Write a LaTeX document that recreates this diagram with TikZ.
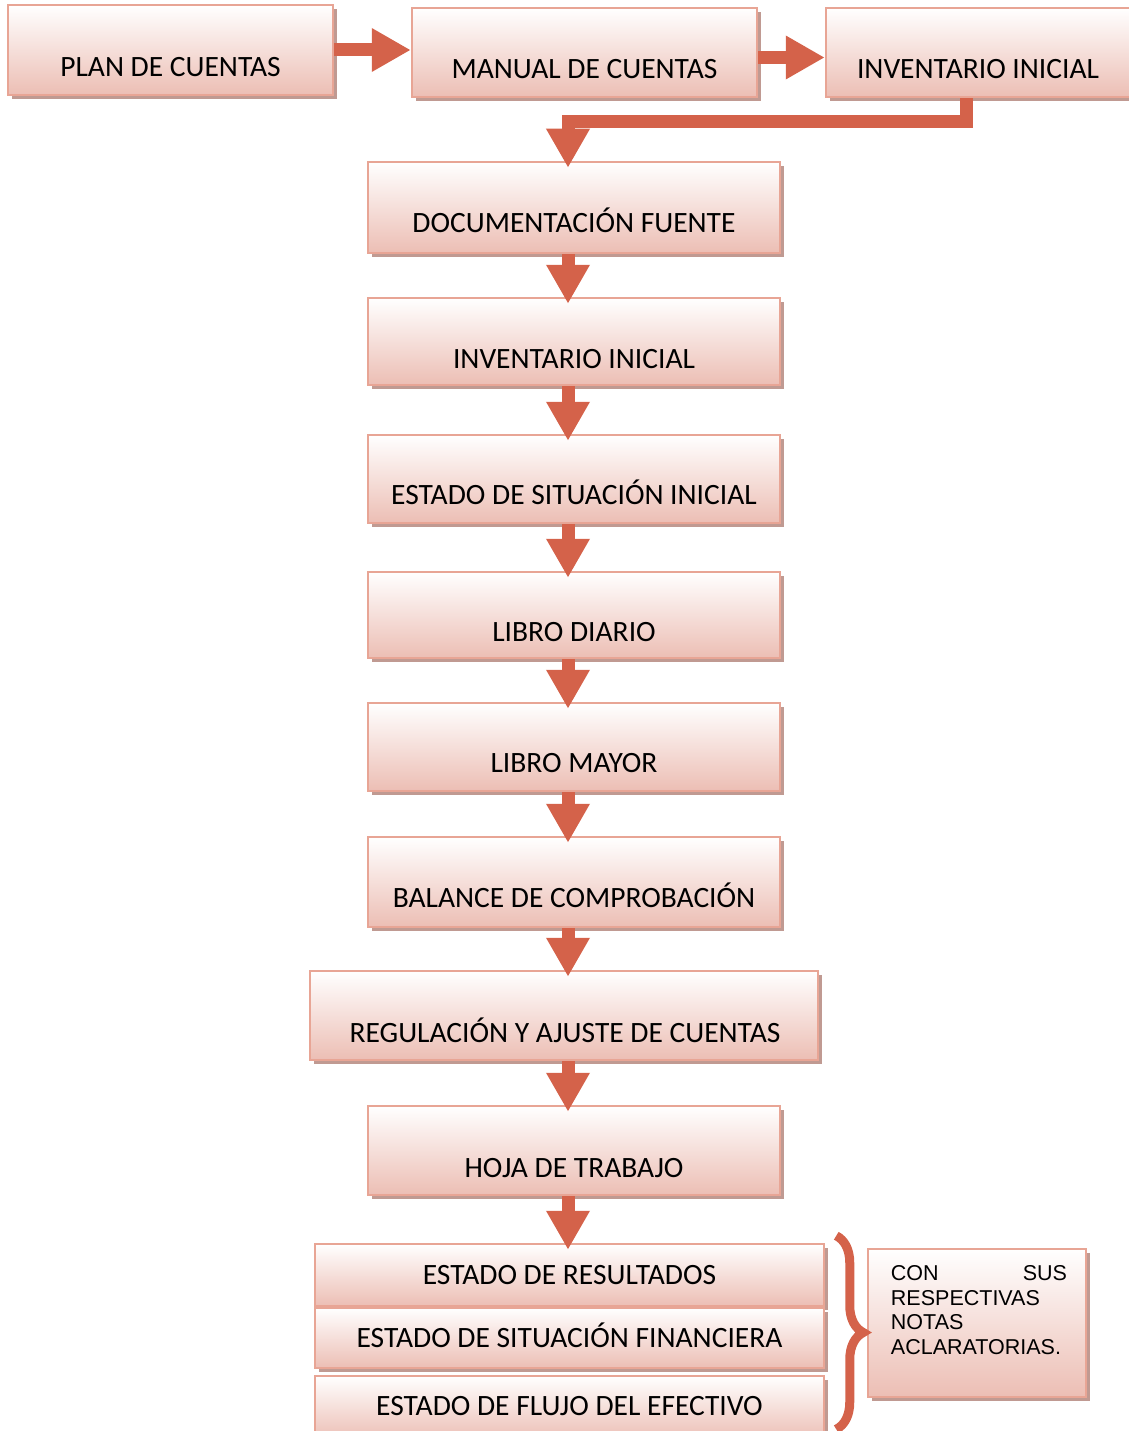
\documentclass[tikz,border=0pt]{standalone}
\usepackage{fontspec}
\setmainfont{Carlito}
\newfontfamily\notafont{Liberation Sans}
\usetikzlibrary{arrows.meta,shadows,decorations.pathreplacing}
\definecolor{naranja}{RGB}{212,98,74}
\definecolor{borde}{RGB}{232,165,149}
\definecolor{fondo}{RGB}{236,190,180}
\definecolor{sombra}{RGB}{192,154,146}

\begin{document}
\begin{tikzpicture}[x=1pt,y=-1pt,
  caja/.style={draw=borde, line width=2.5pt, top color=white, bottom color=fondo, inner sep=0pt,
    drop shadow={shadow xshift=4pt, shadow yshift=-4pt, fill=sombra, opacity=1}},
  txt/.style={font=\fontsize{29.5}{34}\selectfont, text height=19pt, text depth=0pt, inner sep=0pt},
  flecha/.style={draw=naranja, line width=13pt, line join=miter, shorten >=-7pt,
    -{Triangle[length=39pt,width=41pt]}}]
\useasboundingbox (0,0) rectangle (1128,1431); % page
% top row
\node[caja, minimum width=325pt, minimum height=90pt] (plan) at (170.5,50) {};
\node[caja, minimum width=345pt, minimum height=89pt] (manual) at (584.5,52.5) {};
\node[caja, minimum width=310pt, minimum height=89pt] (inv1) at (981,52.5) {};
% column
\node[caja, minimum width=412pt, minimum height=91pt] (doc) at (574,207.5) {};
\node[caja, minimum width=412pt, minimum height=87pt] (inv2) at (574,341.5) {};
\node[caja, minimum width=412pt, minimum height=88pt] (esi) at (574,479) {};
\node[caja, minimum width=412pt, minimum height=86pt] (diario) at (574,615) {};
\node[caja, minimum width=412pt, minimum height=88pt] (mayor) at (574,747) {};
\node[caja, minimum width=412pt, minimum height=90pt] (balance) at (574,882) {};
\node[caja, minimum width=508pt, minimum height=89pt] (regula) at (564,1015.5) {};
\node[caja, minimum width=412pt, minimum height=89pt] (hoja) at (574,1150.5) {};
% final statements
\node[caja, minimum width=509pt, minimum height=62pt] (res) at (569.5,1275) {};
\node[caja, minimum width=509pt, minimum height=60pt] (fin) at (569.5,1338) {};
\node[caja, minimum width=509pt, minimum height=64pt] (flujo) at (569.5,1408) {};
\node[caja, minimum width=218pt, minimum height=148pt] (nota) at (977,1323) {};
% texts
\node[txt] at ([yshift=-17pt]plan.center) {PLAN DE CUENTAS};
\node[txt] at ([yshift=-17pt]manual.center) {MANUAL DE CUENTAS};
\node[txt] at ([xshift=-3pt,yshift=-17pt]inv1.center) {INVENTARIO INICIAL};
\node[txt] at ([yshift=-16pt]doc.center) {DOCUMENTACIÓN FUENTE};
\node[txt] at ([yshift=-17pt]inv2.center) {INVENTARIO INICIAL};
\node[txt] at ([yshift=-16pt]esi.center) {ESTADO DE SITUACIÓN INICIAL};
\node[txt] at ([yshift=-17pt]diario.center) {LIBRO DIARIO};
\node[txt] at ([yshift=-16pt]mayor.center) {LIBRO MAYOR};
\node[txt] at ([yshift=-16pt]balance.center) {BALANCE DE COMPROBACIÓN};
\node[txt] at ([xshift=1pt,yshift=-17pt]regula.center) {REGULACIÓN Y AJUSTE DE CUENTAS};
\node[txt] at ([yshift=-17pt]hoja.center) {HOJA DE TRABAJO};
\node[txt] at (res.center) {ESTADO DE RESULTADOS};
\node[txt] at (fin.center) {ESTADO DE SITUACIÓN FINANCIERA};
\node[txt] at ([yshift=2pt]flujo.center) {ESTADO DE FLUJO DEL EFECTIVO};
\node[anchor=north west, text width=176pt, align=left, inner sep=0pt,
  font=\notafont\fontsize{21.5}{24.5}\selectfont] at ([xshift=24pt,yshift=-18pt]nota.north west)
  {CON\hfill SUS\\RESPECTIVAS\\NOTAS\\ACLARATORIAS.};
% arrows
\draw[flecha, shorten >=0pt] (plan.east) -- (plan.east -| manual.west);
\draw[flecha, shorten >=0pt] ([yshift=-5pt]manual.east) -- ([yshift=-5pt]manual.east -| inv1.west);
\draw[flecha] ([xshift=-15pt]inv1.south) -- ++(0,23.5) -| ([xshift=-6pt]doc.north); % return line
\foreach \a/\b in {doc/inv2, inv2/esi, esi/diario, diario/mayor, mayor/balance, balance/regula, regula/hoja, hoja/res}
  \draw[flecha] ([xshift=-6pt]\a.south -| doc.south) -- ([xshift=-6pt]\b.north -| doc.north);
% brace
\draw[naranja, line width=9pt, decorate, decoration={brace, amplitude=27pt}]
  ([xshift=11pt,yshift=7pt]res.north east) -- ([xshift=11pt,yshift=12pt]flujo.south east);
\end{tikzpicture}
\end{document}
